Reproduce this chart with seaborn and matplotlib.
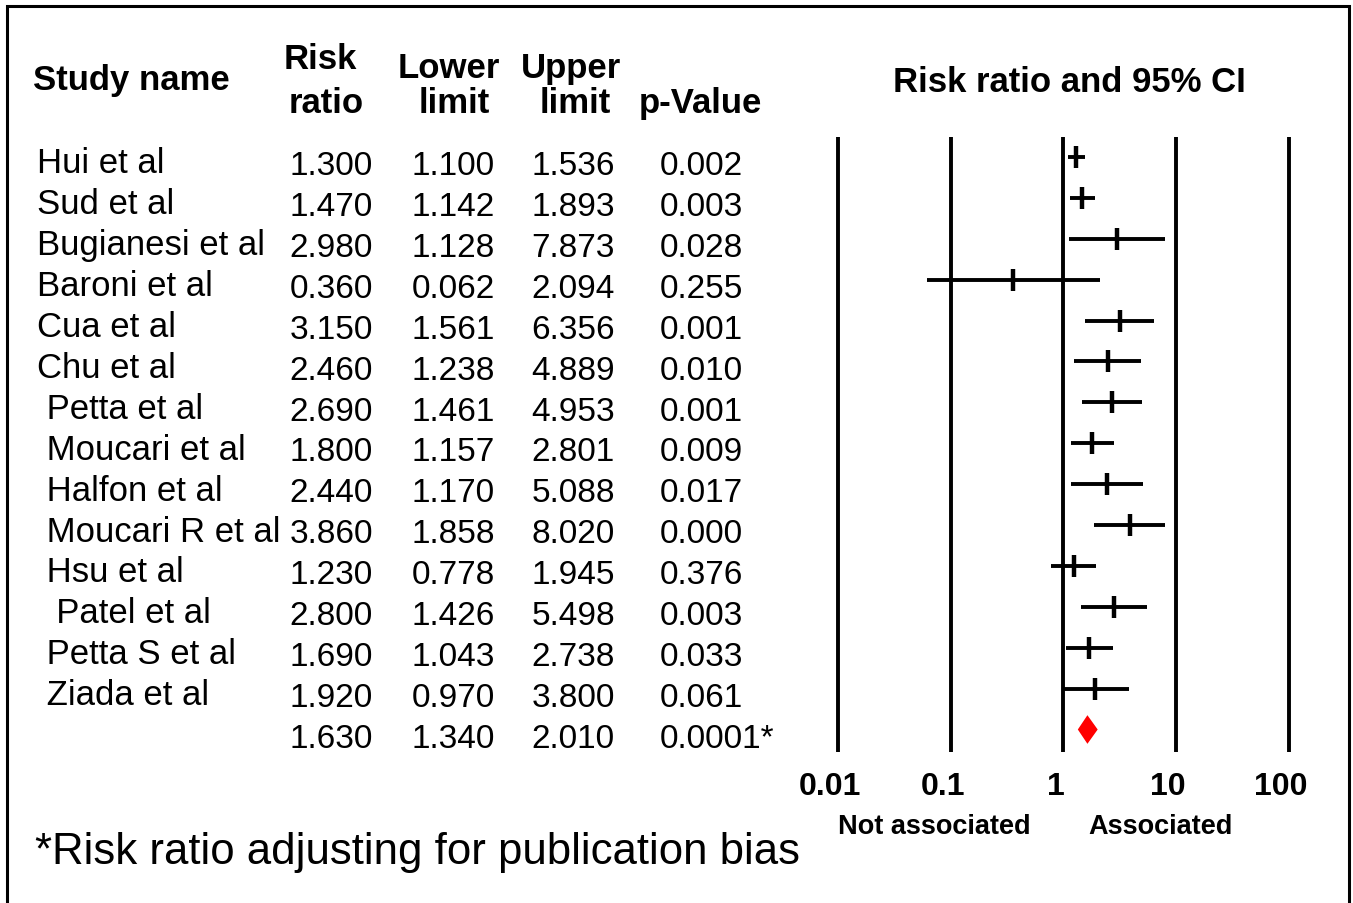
import numpy as np
import pandas as pd
import matplotlib
matplotlib.use("Agg")
import matplotlib.pyplot as plt
import matplotlib.transforms as mtransforms
from matplotlib.patches import Rectangle
import seaborn as sns

# data
studies = ["Hui et al", "Sud et al", "Bugianesi et al", "Baroni et al", "Cua et al",
           "Chu et al", " Petta et al", " Moucari et al", " Halfon et al",
           " Moucari R et al", " Hsu et al", "  Patel et al", " Petta S et al",
           " Ziada et al"]
risk_ratio = [1.300, 1.470, 2.980, 0.360, 3.150, 2.460, 2.690, 1.800, 2.440,
              3.860, 1.230, 2.800, 1.690, 1.920]
lower = [1.100, 1.142, 1.128, 0.062, 1.561, 1.238, 1.461, 1.157, 1.170,
         1.858, 0.778, 1.426, 1.043, 0.970]
upper = [1.536, 1.893, 7.873, 2.094, 6.356, 4.889, 4.953, 2.801, 5.088,
         8.020, 1.945, 5.498, 2.738, 3.800]
p_values = ["0.002", "0.003", "0.028", "0.255", "0.001", "0.010", "0.001", "0.009",
            "0.017", "0.000", "0.376", "0.003", "0.033", "0.061"]

# pooled estimate (adjusted for publication bias)
pooled_rr, pooled_lo, pooled_hi, pooled_p = 1.630, 1.340, 2.010, "0.0001*"

axis_ticks = [0.01, 0.1, 1, 10, 100]
tick_labels = ["0.01", "0.1", "1", "10", "100"]

df = pd.DataFrame({"study": studies, "rr": risk_ratio, "lo": lower, "hi": upper,
                   "p": p_values})
df["row"] = np.arange(len(df))
pooled_row = len(df)

sns.set_theme(style="white")
plt.rcParams['font.family'] = ['Liberation Sans', 'DejaVu Sans']
plt.rcParams['text.color'] = 'black'
plt.rcParams['xtick.color'] = 'black'
plt.rcParams['xtick.labelcolor'] = 'black'

W, H = 1353, 904
fig = plt.figure(figsize=(W / 100, H / 100), dpi=100)

# forest plot axes (pixel layout of the reference)
left_px, right_px = 804.2, 1322.8
top_px, bot_px = 137.5, 753
ax = fig.add_axes([left_px / W, 1 - bot_px / H, (right_px - left_px) / W,
                   (bot_px - top_px) / H])
ax.set_xscale("log")
ax.set_xlim(10 ** -2.3, 10 ** 2.3)
ax.set_ylim(14.55, -0.5)

for t in axis_ticks:
    ax.axvline(t, color="black", lw=2.8, zorder=1)

ax.hlines(df["row"], df["lo"], df["hi"], color="black", lw=2.8, zorder=2)
sns.scatterplot(data=df, x="rr", y="row", marker="|", s=260, linewidth=3.2,
                color="black", ax=ax, zorder=3, legend=False)

# pooled diamond
dh = 0.35
ax.fill([pooled_lo, pooled_rr, pooled_hi, pooled_rr],
        [pooled_row, pooled_row - dh, pooled_row, pooled_row + dh],
        color="#ff0000", lw=0, zorder=3)

ax.set_xticks(axis_ticks)
ax.set_xticklabels(tick_labels, fontsize=23, fontweight="bold", color="black")
ax.xaxis.set_minor_locator(matplotlib.ticker.NullLocator())
ax.tick_params(axis="x", length=0, pad=14)
shift = mtransforms.ScaledTranslation(-8 / 100, 0, fig.dpi_scale_trans)
for lab in ax.get_xticklabels():
    lab.set_transform(lab.get_transform() + shift)
ax.set_yticks([])
ax.set_xlabel("")
ax.set_ylabel("")
for s in ax.spines.values():
    s.set_visible(False)
ax.patch.set_alpha(0)

# table text: x in figure pixels, y in row units
tr = mtransforms.blended_transform_factory(fig.transFigure, ax.transData)


def fx(px):
    return px / W


def fy(py):
    return 1 - py / H


for _, r in df.iterrows():
    yb = r["row"] + 0.42
    ax.text(fx(37), yb - 0.04, r["study"], transform=tr, fontsize=25,
            va="baseline", ha="left", clip_on=False)
    ax.text(fx(331), yb, f"{r['rr']:.3f}", transform=tr, fontsize=24,
            va="baseline", ha="center", clip_on=False)
    ax.text(fx(453), yb, f"{r['lo']:.3f}", transform=tr, fontsize=24,
            va="baseline", ha="center", clip_on=False)
    ax.text(fx(573), yb, f"{r['hi']:.3f}", transform=tr, fontsize=24,
            va="baseline", ha="center", clip_on=False)
    ax.text(fx(660), yb, r["p"], transform=tr, fontsize=24,
            va="baseline", ha="left", clip_on=False)

yb = pooled_row + 0.42
ax.text(fx(331), yb, f"{pooled_rr:.3f}", transform=tr, fontsize=24,
        va="baseline", ha="center", clip_on=False)
ax.text(fx(453), yb, f"{pooled_lo:.3f}", transform=tr, fontsize=24,
        va="baseline", ha="center", clip_on=False)
ax.text(fx(573), yb, f"{pooled_hi:.3f}", transform=tr, fontsize=24,
        va="baseline", ha="center", clip_on=False)
ax.text(fx(660), yb, pooled_p, transform=tr, fontsize=24,
        va="baseline", ha="left", clip_on=False)

# headers
hdr = dict(fontsize=25, fontweight="bold", va="baseline")
fig.text(fx(33), fy(90), "Study name", ha="left", **hdr)
fig.text(fx(320), fy(69), "Risk", ha="center", **hdr)
fig.text(fx(326), fy(113), "ratio", ha="center", **hdr)
fig.text(fx(449), fy(78), "Lower", ha="center", **hdr)
fig.text(fx(454), fy(113), "limit", ha="center", **hdr)
fig.text(fx(571), fy(78), "Upper", ha="center", **hdr)
fig.text(fx(575), fy(113), "limit", ha="center", **hdr)
fig.text(fx(700), fy(113), "p-Value", ha="center", **hdr)
fig.text(fx(1069), fy(92), "Risk ratio and 95% CI", ha="center", **hdr)

fig.text(fx(934), fy(834), "Not associated", ha="center", va="baseline",
         fontsize=19.5, fontweight="bold")
fig.text(fx(1161), fy(834), "Associated", ha="center", va="baseline",
         fontsize=19.5, fontweight="bold")

fig.text(fx(35), fy(864), "*Risk ratio adjusting for publication bias",
         ha="left", va="baseline", fontsize=31.5)

# outer frame
fig.add_artist(Rectangle((fx(7), -0.02), fx(1349) - fx(7), fy(7) + 0.02,
                         transform=fig.transFigure, fill=False,
                         edgecolor="black", lw=2.2))

fig.savefig("out.png", dpi=100)
